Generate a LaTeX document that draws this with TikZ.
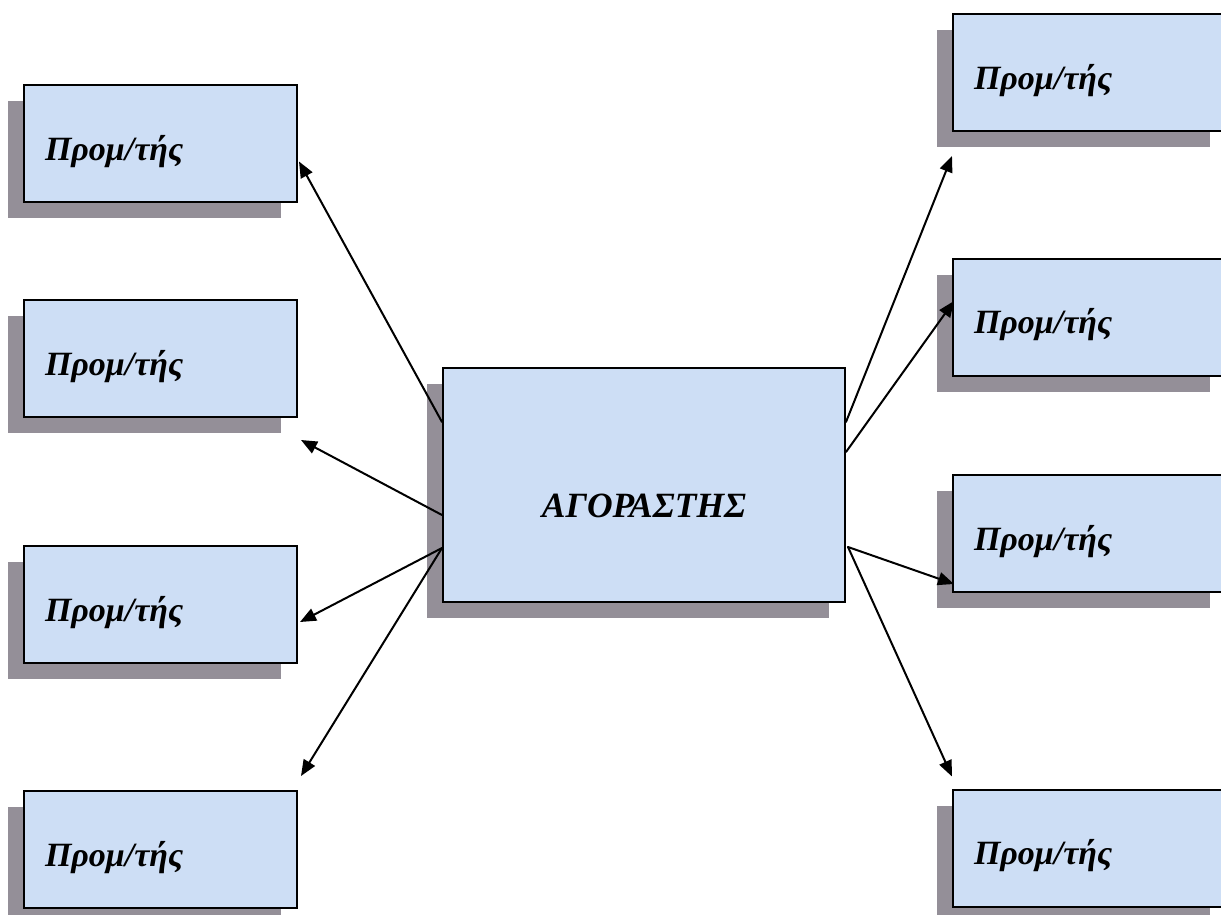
\documentclass[tikz,border=0pt]{standalone}
\usepackage{fontspec}
\setmainfont{Liberation Serif}
\usetikzlibrary{arrows.meta,shadows}

\begin{document}
\begin{tikzpicture}
			[x=1pt,y=-1pt,line cap=round,
			%Styles
			box/.style={rectangle,draw,line width=2pt,fill=boxblue,
				drop shadow={shadow xshift=-16pt,shadow yshift=-16pt,fill=shadowgray,opacity=1}},
			seller/.style={box,minimum width=273pt,minimum height=117pt,
				text width=231pt,align=left,inner xsep=21pt,inner ysep=0pt,
				text height=36pt,text depth=3pt,
				font=\bfseries\itshape\fontsize{34}{36}\selectfont},
			buyer/.style={box,minimum width=402pt,minimum height=234pt,
				inner ysep=0pt,text height=66pt,text depth=2pt,
				font=\bfseries\itshape\fontsize{35.5}{38}\selectfont},
			link/.style={line width=2pt,-{Triangle[length=16pt,width=13pt]}}
			]
			
			%Colors
			\definecolor{boxblue}{RGB}{205,222,245}
			\definecolor{shadowgray}{RGB}{148,143,152}
			
			\useasboundingbox[fill=white] (0,0) rectangle (1221,914);
			
			%The graphic
			\node[buyer] (C) at (644, 485) {ΑΓΟΡΑΣΤΗΣ};
			
			\node[seller] (L1) at (160.5, 143.5) {Προμ/τής};
			\node[seller] (L2) at (160.5, 358.5) {Προμ/τής};
			\node[seller] (L3) at (160.5, 604.5) {Προμ/τής};
			\node[seller] (L4) at (160.5, 849.5) {Προμ/τής};
			
			\node[seller] (R1) at (1089.5, 72.5) {Προμ/τής};
			\node[seller] (R2) at (1089.5, 317) {Προμ/τής};
			\node[seller] (R3) at (1089.5, 533.5) {Προμ/τής};
			\node[seller] (R4) at (1089.5, 848) {Προμ/τής};
			
			\draw[link] ([shift={(0,55)}]C.north west) -- ([shift={(1,18)}]L1.east);
			\draw[link] ([shift={(0,30)}]C.west) -- ([shift={(3,22)}]L2.south east);
			\draw[link] ([shift={(0,63)}]C.west) -- ([shift={(2,17.5)}]L3.east);
			\draw[link] ([shift={(0,63)}]C.west) -- ([shift={(3,-14)}]L4.north east);
			
			\draw[link] ([shift={(0,55)}]C.north east) -- ([shift={(0,24)}]R1.south west);
			\draw[link] ([shift={(0,85)}]C.north east) -- ([shift={(2,-16)}]R2.west);
			\draw[link] ([shift={(2,62)}]C.east) -- ([shift={(2,-9)}]R3.south west);
			\draw[link] ([shift={(2,62)}]C.east) -- ([shift={(0,-12)}]R4.north west);
		\end{tikzpicture}
\end{document}
